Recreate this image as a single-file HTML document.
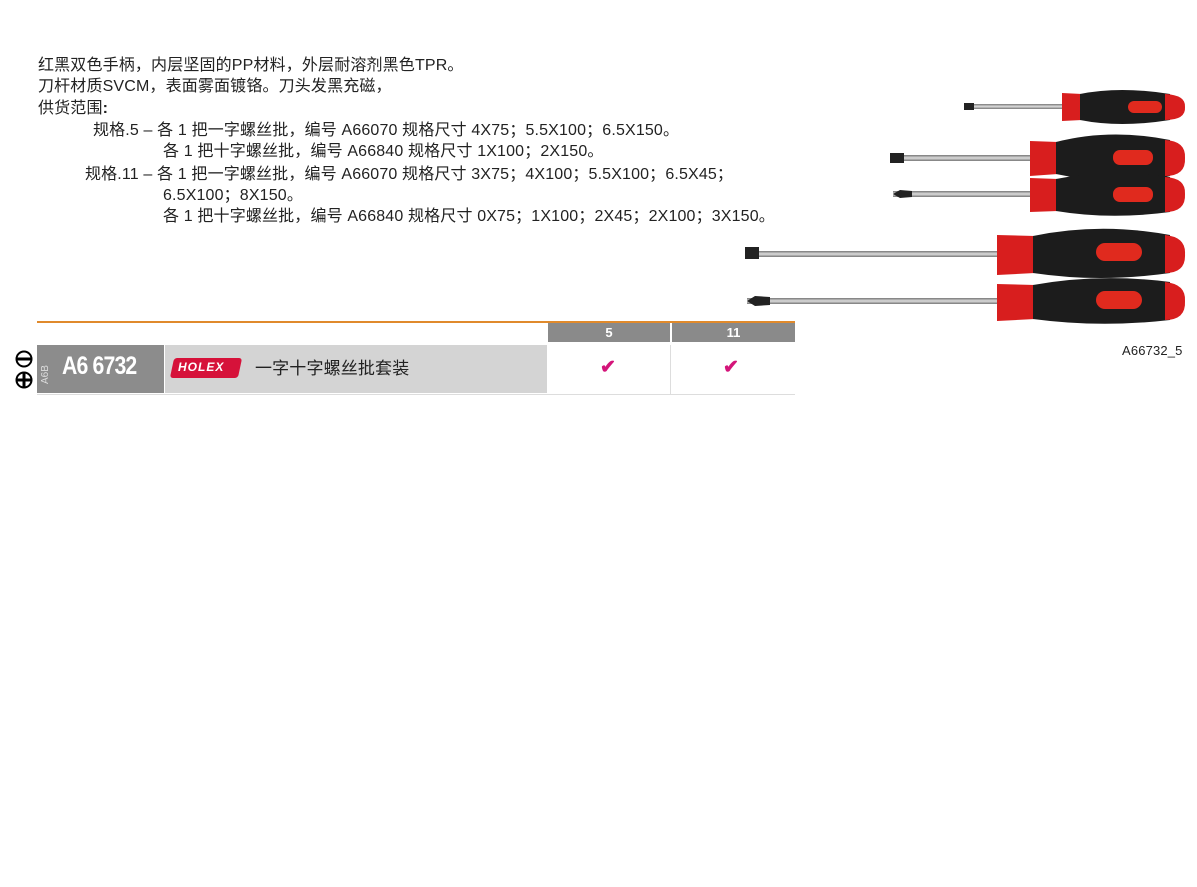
<!DOCTYPE html><html><head><meta charset="utf-8"><style>
body{margin:0;width:1197px;height:887px;background:#fff;position:relative;overflow:hidden;font-family:"Liberation Sans","Noto Sans CJK SC",sans-serif;color:#222}
.t{position:absolute;font-size:16px;letter-spacing:0.15px;white-space:nowrap;line-height:20px}
.a{position:absolute}
</style></head><body>
<div class="t" style="left:38px;top:56px">红黑双色手柄，内层坚固的PP材料，外层耐溶剂黑色TPR。</div>
<div class="t" style="left:38px;top:77px">刀杆材质SVCM，表面雾面镀铬。刀头发黑充磁，</div>
<div class="t" style="left:38px;top:99px">供货范围<b>:</b></div>
<div class="t" style="left:93px;top:121px">规格.5 – 各 1 把一字螺丝批，编号 A66070 规格尺寸 4X75；5.5X100；6.5X150。</div>
<div class="t" style="left:163px;top:142px">各 1 把十字螺丝批，编号 A66840 规格尺寸 1X100；2X150。</div>
<div class="t" style="left:85px;top:165px">规格.11 – 各 1 把一字螺丝批，编号 A66070 规格尺寸 3X75；4X100；5.5X100；6.5X45；</div>
<div class="t" style="left:163px;top:186px">6.5X100；8X150。</div>
<div class="t" style="left:163px;top:207px">各 1 把十字螺丝批，编号 A66840 规格尺寸 0X75；1X100；2X45；2X100；3X150。</div>

<div class="a" style="left:37px;top:321px;width:758px;height:2px;background:#e08a2c"></div>
<div class="a" style="left:548px;top:323px;width:122px;height:19px;background:#8a8a8a;color:#fff;font-size:13px;font-weight:bold;text-align:center;line-height:19px">5</div>
<div class="a" style="left:672px;top:323px;width:123px;height:19px;background:#8a8a8a;color:#fff;font-size:13px;font-weight:bold;text-align:center;line-height:19px">11</div>
<div class="a" style="left:37px;top:345px;width:127px;height:48px;background:#8c8c8c"></div>
<div class="a" style="left:165px;top:345px;width:382px;height:48px;background:#d4d4d4"></div>
<div class="a" style="left:37px;top:394px;width:758px;height:1px;background:#ddd"></div>
<div class="a" style="left:670px;top:345px;width:1px;height:49px;background:#ddd"></div>
<div class="a" style="left:40px;top:384px;font-size:10px;color:#ddd;transform:rotate(-90deg);transform-origin:left top">A6B</div>
<div class="a" style="left:62px;top:352px;font-size:25px;font-weight:bold;color:#fff;letter-spacing:-1px;transform:scaleX(0.85);transform-origin:left">A6 6732</div>
<div class="a" style="left:172px;top:358px;width:68px;height:20px;background:#d6123a;transform:skewX(-12deg);border-radius:3px"></div>
<div class="a" style="left:178px;top:360px;font-size:12px;font-weight:bold;color:#fff;font-style:italic;letter-spacing:1px">HOLEX</div>
<div class="t" style="left:255px;top:359px;font-size:17px">一字十字螺丝批套装</div>
<div class="a" style="left:600px;top:356px;font-size:19px;color:#d4157a;font-weight:bold">✔</div>
<div class="a" style="left:723px;top:356px;font-size:19px;color:#d4157a;font-weight:bold">✔</div>
<svg class="a" style="left:13px;top:348px" width="22" height="44">
<circle cx="11" cy="11" r="7.5" fill="none" stroke="#000" stroke-width="2"/><rect x="4" y="9.5" width="14" height="3" fill="#000"/>
<circle cx="11" cy="32" r="7.5" fill="none" stroke="#000" stroke-width="2"/><rect x="4" y="30.5" width="14" height="3"/><rect x="9.5" y="25" width="3" height="14"/>
</svg>
<div class="t" style="left:1122px;top:341px;font-size:13px">A66732_5</div>

<svg class="a" style="left:0;top:0" width="1197" height="400">
<defs><linearGradient id="sh" x1="0" y1="0" x2="0" y2="1"><stop offset="0" stop-color="#777"/><stop offset="0.5" stop-color="#ddd"/><stop offset="1" stop-color="#777"/></linearGradient></defs>
<g>
<rect x="964" y="104" width="100" height="5" fill="url(#sh)"/><rect x="964" y="103" width="10" height="7" fill="#222"/>
<path d="M1062 93 L1082 94 L1082 120 L1062 121 Z" fill="#d81e1e"/>
<path d="M1080 94 Q1120 86 1170 94 L1170 120 Q1120 128 1080 120 Z" fill="#1c1c1c"/>
<path d="M1165 94 Q1186 95 1185 107 Q1186 120 1165 120 Z" fill="#d81e1e"/>
<rect x="1128" y="101" width="34" height="12" rx="6" fill="#e02a1e"/>
</g>
<g>
<rect x="890" y="155" width="142" height="6" fill="url(#sh)"/><rect x="890" y="153" width="14" height="10" fill="#222"/>
<path d="M1030 141 L1058 142 L1058 174 L1030 176 Z" fill="#d81e1e"/>
<path d="M1056 142 Q1110 128 1170 140 L1170 176 Q1110 186 1056 174 Z" fill="#1c1c1c"/>
<path d="M1165 140 Q1186 141 1185 158 Q1186 176 1165 176 Z" fill="#d81e1e"/>
<rect x="1113" y="150" width="40" height="15" rx="7" fill="#e02a1e"/>
</g>
<g>
<rect x="893" y="191" width="140" height="6" fill="url(#sh)"/><path d="M893 194 L900 190 L912 191 L912 197 L900 198 Z" fill="#222"/>
<path d="M1030 178 L1058 179 L1058 211 L1030 212 Z" fill="#d81e1e"/>
<path d="M1056 179 Q1110 168 1170 177 L1170 212 Q1110 220 1056 211 Z" fill="#1c1c1c"/>
<path d="M1165 177 Q1186 178 1185 194 Q1186 212 1165 212 Z" fill="#d81e1e"/>
<rect x="1113" y="187" width="40" height="15" rx="7" fill="#e02a1e"/>
</g>
<g>
<rect x="745" y="251" width="255" height="6" fill="url(#sh)"/><rect x="745" y="247" width="14" height="12" fill="#222"/>
<path d="M997 235 L1035 236 L1035 273 L997 275 Z" fill="#d81e1e"/>
<path d="M1033 236 Q1100 222 1170 235 L1170 273 Q1100 283 1033 273 Z" fill="#1c1c1c"/>
<path d="M1165 235 Q1186 237 1185 254 Q1186 273 1165 273 Z" fill="#d81e1e"/>
<rect x="1096" y="243" width="46" height="18" rx="9" fill="#e02a1e"/>
</g>
<g>
<rect x="747" y="298" width="253" height="6" fill="url(#sh)"/><path d="M747 301 L755 296 L770 297 L770 305 L755 306 Z" fill="#222"/>
<path d="M997 284 L1035 285 L1035 319 L997 321 Z" fill="#d81e1e"/>
<path d="M1033 285 Q1100 273 1170 282 L1170 320 Q1100 328 1033 319 Z" fill="#1c1c1c"/>
<path d="M1165 282 Q1186 284 1185 301 Q1186 320 1165 320 Z" fill="#d81e1e"/>
<rect x="1096" y="291" width="46" height="18" rx="9" fill="#e02a1e"/>
</g>
</svg>
</body></html>
